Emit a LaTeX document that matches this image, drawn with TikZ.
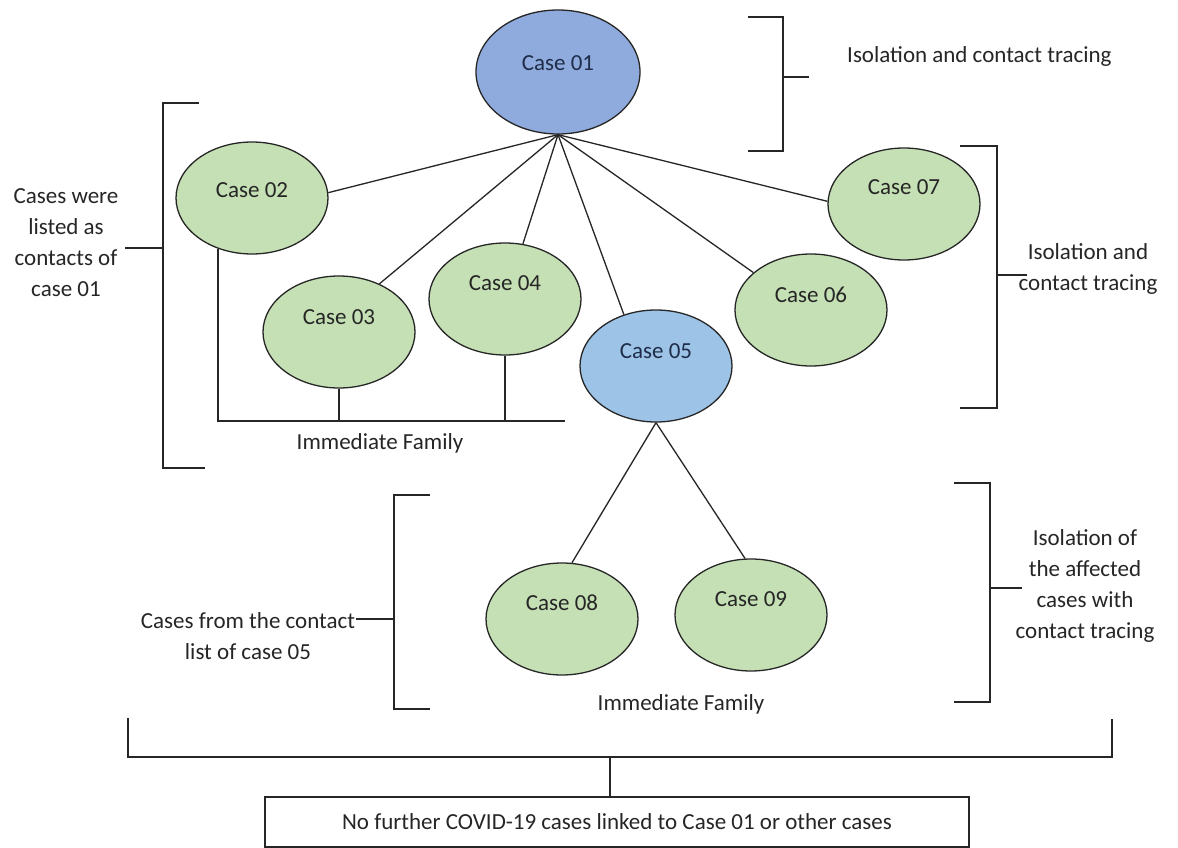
\documentclass[tikz,border=0pt]{standalone}
\usepackage{fontspec}
\setmainfont{Carlito}
\usetikzlibrary{shapes.geometric}
\definecolor{blueA}{HTML}{8FAADC}
\definecolor{blueB}{HTML}{9DC3E6}
\definecolor{greenA}{HTML}{C5E0B4}
\definecolor{edgeC}{HTML}{262626}
\definecolor{navyT}{HTML}{1F2D4A}
\definecolor{txt}{HTML}{262626}
\tikzset{
  casebase/.style={ellipse, draw=edgeC, line width=1.3pt, minimum width=152pt, minimum height=112pt, inner sep=0pt},
  bluecase/.style={casebase, fill=blueA, minimum width=164pt, minimum height=124pt},
  lightcase/.style={casebase, fill=blueB},
  greencase/.style={casebase, fill=greenA},
  lbl/.style={font=\fontsize{23}{31}\selectfont, text=txt, inner sep=0pt},
  bluelbl/.style={lbl, text=navyT},
  link/.style={draw=edgeC, line width=1.3pt},
  brk/.style={draw=edgeC, line width=1.5pt},
  note/.style={font=\fontsize{23}{31}\selectfont, text=txt, inner sep=0pt, align=center}
}
\begin{document}
\begin{tikzpicture}[x=1pt,y=-1pt]
\useasboundingbox (0,0) rectangle (1178,848);
\fill[white] (0,0) rectangle (1178,848);

% ellipses
\node[bluecase, label={[bluelbl,yshift=9pt]center:Case 01}] (c1) at (558,72) {};
\node[greencase, label={[lbl,yshift=8pt]center:Case 02}] (c2) at (252,198) {};
\node[greencase, label={[lbl,yshift=15pt]center:Case 03}] (c3) at (339,332) {};
\node[greencase, label={[lbl,yshift=16pt]center:Case 04}] (c4) at (505,299) {};
\node[lightcase, label={[bluelbl,yshift=15pt]center:Case 05}] (c5) at (656,366) {};
\node[greencase, label={[lbl,yshift=15pt]center:Case 06}] (c6) at (811,310) {};
\node[greencase, label={[lbl,yshift=17pt]center:Case 07}] (c7) at (904,204) {};
\node[greencase, label={[lbl,yshift=16pt]center:Case 08}] (c8) at (562,619) {};
\node[greencase, label={[lbl,yshift=16pt]center:Case 09}] (c9) at (751,615) {};

% connectors from Case 01
\draw[link] (c1.south) -- (c2.4);
\draw[link] (c1.south) -- (c3.50);
\draw[link] (c1.south) -- (c4.72);
\draw[link] (c1.south) -- (c5.122);
\draw[link] (c1.south) -- (c6.147);
\draw[link] (c1.south) -- (c7.178);
% connectors from Case 05
\draw[link] (c5.south) -- (c8.80);
\draw[link] (c5.south) -- (c9.96);

% immediate family (upper)
\coordinate (famR) at (565,421);
\draw[brk] (c2.236) |- (famR);
\draw[brk] (c3.south) -- (c3.south |- famR);
\draw[brk] (c4.south) -- (c4.south |- famR);
\node[lbl, anchor=base] (fam1) at (380,449) {Immediate Family};

% bracket top right
\draw[brk] (748,17) -- (783,17) -- (783,151) -- (748,151);
\coordinate (tr) at (809,77);
\draw[brk] (783,77) -- (tr);
\node[lbl, anchor=base west] (t1) at (847,63) {Isolation and contact tracing};

% bracket left
\draw[brk] (199,103) -- (163,103) -- (163,468) -- (205,468);
\node[note, anchor=base] (t2) at (66,296) {Cases were\\listed as\\contacts of\\case 01};
\draw[brk] (125,248) -- (163,248);

% bracket right middle
\draw[brk] (960,146) -- (997,146) -- (997,408) -- (960,408);
\draw[brk] (997,275) -- (1027,275);
\node[note, anchor=base] (t3) at (1088,290) {Isolation and\\contact tracing};

% bracket lower left
\draw[brk] (430,495) -- (394,495) -- (394,709) -- (430,709);
\draw[brk] (356,619) -- (394,619);
\node[note, anchor=base] (t4) at (248,659) {Cases from the contact\\list of case 05};

% bracket lower right
\draw[brk] (954,483) -- (990,483) -- (990,702) -- (954,702);
\draw[brk] (990,588) -- (1022,588);
\node[note, anchor=base] (t5) at (1085,638) {Isolation of\\the affected\\cases with\\contact tracing};

\node[lbl, anchor=base] (fam2) at (681,710) {Immediate Family};

% bottom bracket and box
\node[draw=edgeC, line width=1.3pt, minimum width=704pt, minimum height=50pt, inner sep=0pt,
      font=\fontsize{23}{31}\selectfont, text=txt] (box) at (617,822) {No further COVID-19 cases linked to Case 01 or other cases};
\draw[brk] (128,718) -- (128,757) -- (1112,757) -- (1112,719);
\draw[brk] (610,757) -- (box.north -| 610,0);
\end{tikzpicture}
\end{document}
